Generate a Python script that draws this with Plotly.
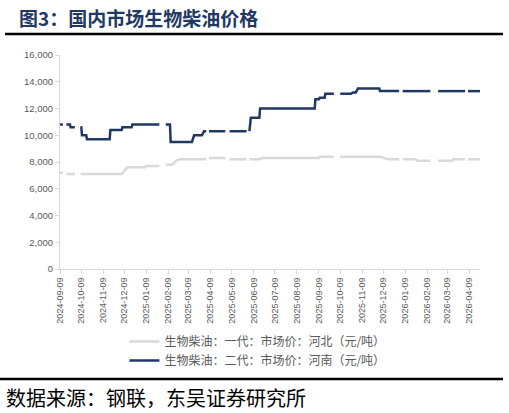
import plotly.graph_objects as go

# ---- data ----
gen1_dates = ["2024-09-09","2024-09-13","2024-09-14","2024-09-18","2024-09-30","2024-10-01",
              "2024-10-08","2024-12-05","2024-12-13","2025-01-07","2025-01-08","2025-01-27","2025-01-28",
              "2025-02-05","2025-02-14","2025-02-20","2025-02-25","2025-04-03","2025-04-04",
              "2025-04-07","2025-04-30","2025-05-01","2025-05-06","2025-05-30","2025-05-31",
              "2025-06-03","2025-06-18","2025-06-20","2025-09-09","2025-09-10","2025-09-30","2025-10-01",
              "2025-10-09","2025-12-05","2025-12-15","2025-12-31","2026-01-01","2026-01-05","2026-01-23",
              "2026-01-26","2026-02-13","2026-02-14","2026-02-24","2026-03-16","2026-03-17","2026-04-03",
              "2026-04-04","2026-04-07","2026-04-24"]
gen1_vals = [7200,7200,None,7100,7100,None,
             7100,7100,7600,7600,7700,7700,None,
             7800,7800,8100,8200,8200,None,
             8300,8300,None,8200,8200,None,
             8200,8200,8300,8300,8400,8400,None,
             8400,8400,8200,8200,None,8200,8200,
             8100,8100,None,8100,8100,8200,8200,
             None,8200,8200]

gen2_dates = ["2024-09-09","2024-09-13","2024-09-14","2024-09-18","2024-09-23","2024-09-24","2024-09-30",
              "2024-10-01","2024-10-08","2024-10-09","2024-10-10","2024-10-16","2024-10-17","2024-11-18",
              "2024-11-19","2024-12-05","2024-12-06","2024-12-19","2024-12-20","2025-01-27","2025-01-28",
              "2025-02-05","2025-02-11","2025-02-12","2025-03-14","2025-03-17","2025-03-28","2025-03-31",
              "2025-04-03","2025-04-04","2025-04-07","2025-04-30","2025-05-01","2025-05-06","2025-05-30",
              "2025-05-31","2025-06-03","2025-06-05","2025-06-17","2025-06-18","2025-09-03","2025-09-04",
              "2025-09-09","2025-09-10","2025-09-17","2025-09-18","2025-09-30","2025-10-01","2025-10-09",
              "2025-10-24","2025-10-27","2025-10-31","2025-11-03","2025-12-03","2025-12-04","2025-12-31",
              "2026-01-01","2026-01-05","2026-02-13","2026-02-14","2026-02-24","2026-04-03","2026-04-04",
              "2026-04-07","2026-04-24"]
gen2_vals = [10800,10800,None,10800,10800,10600,10600,
             None,10600,10600,10000,10000,9700,9700,
             10400,10400,10600,10600,10800,10800,None,
             10800,10800,9500,9500,10000,10000,10300,
             10300,None,10300,10300,None,10300,10300,
             None,10300,11300,11300,12000,12000,12700,
             12700,12800,12800,13100,13100,None,13100,
             13100,13200,13200,13500,13500,13300,13300,
             None,13300,13300,None,13300,13300,None,
             13300,13300]

series_names = ["生物柴油：一代：市场价：河北（元/吨）", "生物柴油：二代：市场价：河南（元/吨）"]
title_text = "图3：国内市场生物柴油价格"
source_text = "数据来源：钢联，东吴证券研究所"

# ---- figure ----
fig = go.Figure()
fig.add_trace(go.Scatter(x=gen1_dates, y=gen1_vals, mode="lines", name=series_names[0],
                         line=dict(color="#D9D9D9", width=2.5), connectgaps=False))
fig.add_trace(go.Scatter(x=gen2_dates, y=gen2_vals, mode="lines", name=series_names[1],
                         line=dict(color="#1F3864", width=2.5), connectgaps=False))

L, T, PW, PH = 60, 55, 420, 214
W, H = 509, 413

def px(x):
    return (x - L) / PW

def py(y):
    return (T + PH - y) / PH

fig.update_layout(
    width=W, height=H,
    margin=dict(l=L, r=W - L - PW, t=T, b=H - T - PH),
    paper_bgcolor="white", plot_bgcolor="white",
    font=dict(family="Noto Sans CJK SC, sans-serif", color="#595959"),
    showlegend=True,
    legend=dict(orientation="v", x=0.47, xanchor="center", y=py(327), yanchor="top",
                font=dict(size=12, color="#595959"), itemwidth=30, tracegroupgap=0,
                bgcolor="rgba(0,0,0,0)"),
    xaxis=dict(type="date", range=["2024-09-09", "2026-04-24"],
               tick0="2024-09-09", dtick="M1", tickformat="%Y-%m-%d",
               tickangle=-90, tickfont=dict(size=9, color="#595959", family="Liberation Sans, Arial"),
               showgrid=False, showline=True, linecolor="#D9D9D9", linewidth=1,
               ticks="outside", ticklen=4, tickcolor="#D9D9D9", zeroline=False),
    yaxis=dict(range=[0, 16000], dtick=2000, tickformat=",d",
               tickfont=dict(size=9.5, color="#595959", family="Liberation Sans, Arial"),
               showgrid=False, showline=True, linecolor="#D9D9D9", linewidth=1,
               ticks="outside", ticklen=4, tickcolor="#D9D9D9", zeroline=False),
)

fig.add_annotation(text=f"<b>{title_text}</b>", xref="paper", yref="paper",
                   x=px(17), y=py(17), xanchor="left", yanchor="middle", showarrow=False,
                   font=dict(size=19, color="#1F3864", family="Noto Sans CJK SC"))
fig.add_annotation(text=source_text, xref="paper", yref="paper",
                   x=px(4), y=py(397), xanchor="left", yanchor="middle", showarrow=False,
                   font=dict(size=20, color="#000000", family="Noto Sans CJK SC"))
fig.add_shape(type="line", xref="paper", yref="paper", x0=px(5), x1=px(503), y0=py(34), y1=py(34),
              line=dict(color="black", width=2.5))
fig.add_shape(type="line", xref="paper", yref="paper", x0=px(0), x1=px(503), y0=py(379), y1=py(379),
              line=dict(color="black", width=2.5))

fig.write_html("out.html", config={"displayModeBar": False},
               post_script="document.body.style.margin='0';document.body.style.padding='0';")
